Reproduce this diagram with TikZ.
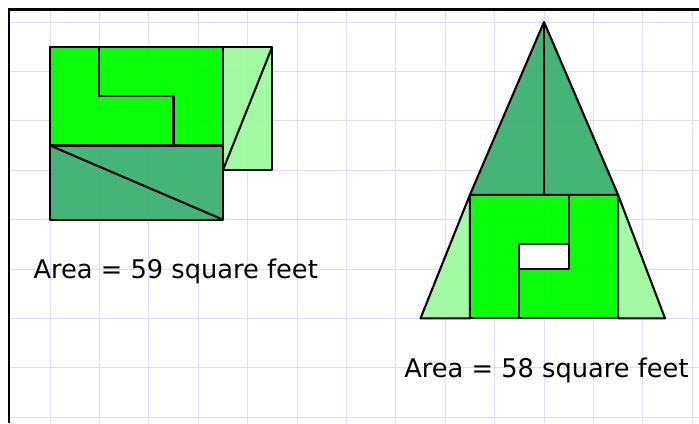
\documentclass[tikz,border=0pt]{standalone}
\usepackage{fontspec}
\setmainfont{DejaVu Sans}
\definecolor{brightgreen}{RGB}{0,255,0}
\definecolor{darkgreen}{RGB}{60,177,115}
\definecolor{lightgreen}{RGB}{158,250,158}
\definecolor{gridline}{RGB}{220,220,255}
\tikzset{
	piece/.style = {draw = black, line width = 1.2pt, line join = round, fill opacity = 0.96},
	cut/.style = {draw = black, line width = 1.2pt},
	label/.style = {anchor = base west, inner sep = 0pt, font = \fontsize{14.8}{17}\selectfont}
}
\begin{document}
\begin{tikzpicture}[x = 0.5cm, y = 0.5cm]
	\useasboundingbox (-0.024,-0.235) rectangle (28.275,16.89);
	% grid paper
	\draw [gridline, line width = 0.5pt] (0.33,-0.235) grid (28.275,16.5);
	\draw [line width = 1.4pt] (0.33,-0.235) -- (0.33,16.5) -- (28.275,16.5);
	% first shape
	\draw [piece, fill = brightgreen] (2,11) rectangle (9,15);
	\draw [piece, fill = darkgreen] (2,8) rectangle (9,11);
	\draw [piece, fill = lightgreen] (9,10) rectangle (11,15);
	\draw [cut] (4,15) -- (4,13) -- (7,13) -- (7,11);
	\draw [cut] (2,11) -- (9,8);
	\draw [cut] (11,15) -- (9,10);
	% second shape
	\draw [piece, fill = darkgreen] (22,16) -- (19,9) -- (25,9) -- cycle;
	\draw [piece, fill = lightgreen] (19,9) -- (17,4) -- (19,4) -- cycle;
	\draw [piece, fill = lightgreen] (25,9) -- (26.9,4) -- (25,4) -- cycle;
	\draw [piece, fill = brightgreen] (19,4) rectangle (25,9);
	\draw [piece, fill = white, fill opacity = 1] (21,6) rectangle (23,7);
	\draw [cut] (22,16) -- (22,9);
	\draw [cut] (21,4) -- (21,6);
	\draw [cut] (23,9) -- (23,7);
	% labels
	\node [label] (area59) at (1.32,5.62) {Area = 59 square feet};
	\node [label] (area58) at (16.33,1.615) {Area = 58 square feet};
\end{tikzpicture}
\end{document}
